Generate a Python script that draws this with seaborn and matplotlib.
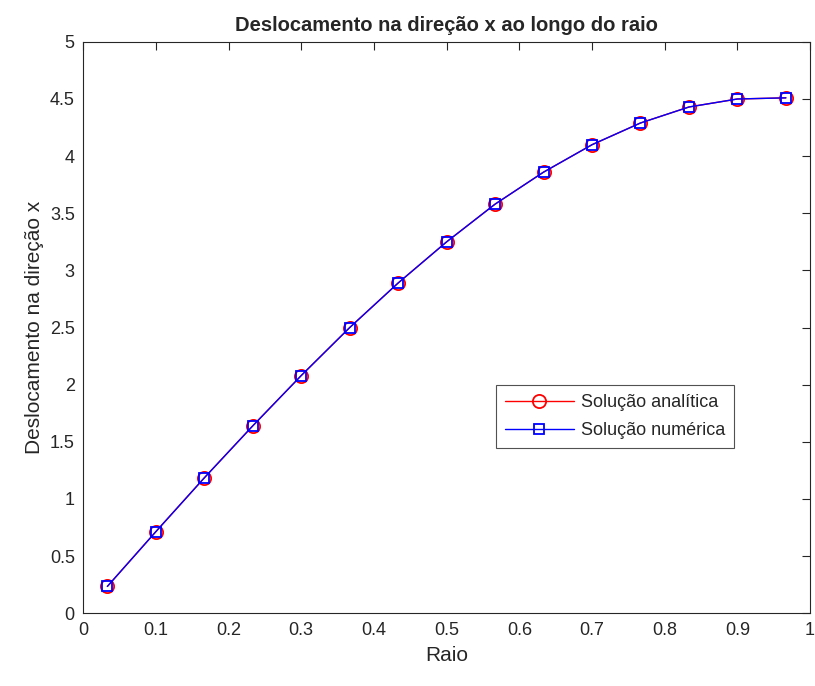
import numpy as np
import pandas as pd
import matplotlib
matplotlib.use('Agg')
import matplotlib.pyplot as plt
import seaborn as sns

# raio (pontos nodais) e deslocamentos
raio = [1/30, 3/30, 5/30, 7/30, 9/30, 11/30, 13/30, 15/30,
        17/30, 19/30, 21/30, 23/30, 25/30, 27/30, 29/30]
u_analitica = [0.235, 0.714, 1.185, 1.64, 2.08, 2.50, 2.89, 3.25,
               3.58, 3.86, 4.10, 4.29, 4.43, 4.50, 4.51]
u_numerica = [0.235, 0.714, 1.185, 1.64, 2.08, 2.50, 2.89, 3.25,
              3.58, 3.86, 4.10, 4.29, 4.43, 4.50, 4.51]

df = pd.DataFrame({'r': raio, 'ana': u_analitica, 'num': u_numerica})

sns.set_style('white')
plt.rcParams['font.family'] = ['Liberation Sans', 'DejaVu Sans']

fig = plt.figure(figsize=(8.15, 6.86), dpi=100)
ax = fig.add_axes([0.102, 0.106, 0.892, 0.833])

sns.lineplot(data=df, x='r', y='ana', ax=ax, color='red', marker='o',
             markersize=9.5, markerfacecolor='none', markeredgecolor='red',
             markeredgewidth=1.3, linewidth=1.0, label='Solução analítica')
sns.lineplot(data=df, x='r', y='num', ax=ax, color='blue', marker='s',
             markersize=7.5, markerfacecolor='none', markeredgecolor='blue',
             markeredgewidth=1.3, linewidth=1.0, label='Solução numérica')

ax.set_xlim(0, 1)
ax.set_ylim(0, 5)
ax.set_xticks(np.arange(0, 1.01, 0.1))
ax.set_xticklabels(['0', '0.1', '0.2', '0.3', '0.4', '0.5', '0.6', '0.7', '0.8', '0.9', '1'])
ax.set_yticks(np.arange(0, 5.01, 0.5))
ax.set_yticklabels(['0', '0.5', '1', '1.5', '2', '2.5', '3', '3.5', '4', '4.5', '5'])
ax.tick_params(direction='in', length=6, width=0.8, colors='#262626',
               labelsize=13, top=True, right=True, pad=6)
for s in ax.spines.values():
    s.set_color('#262626')
    s.set_linewidth(0.8)

ax.set_title('Deslocamento na direção x ao longo do raio', fontsize=14.5,
             fontweight='bold', pad=8)
ax.set_xlabel('Raio', fontsize=15, color='#262626', labelpad=5)
ax.set_ylabel('Deslocamento na direção x', fontsize=15, color='#262626', labelpad=4)

leg = ax.legend(loc='lower left', bbox_to_anchor=(0.568, 0.289), fontsize=13,
                frameon=True, fancybox=False, edgecolor='#262626',
                borderpad=0.5, handlelength=3.8, labelspacing=0.6,
                handletextpad=0.4, borderaxespad=0)
leg.get_frame().set_linewidth(0.8)

fig.savefig('out.png', dpi=100)
